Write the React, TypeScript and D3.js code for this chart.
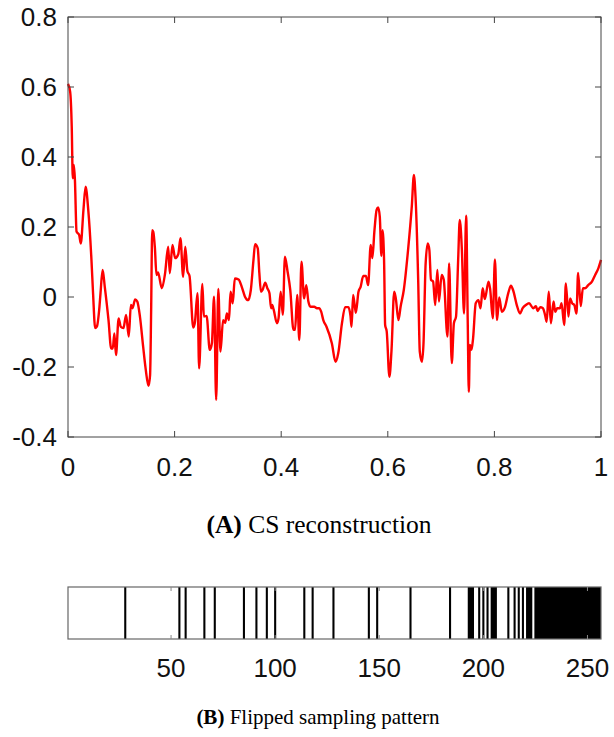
import React, { useEffect } from "react";
import * as d3 from "d3";

// Reconstruction curve points [x, y]
const curvePoints: [number, number][] = [
  [0,0.609],[0.004,0.587],[0.007,0.487],[0.009,0.339],[0.011,0.377],[0.013,0.334],[0.016,0.187],[0.021,0.177],[0.024,0.153],[0.029,0.249],[0.033,0.315],[0.038,0.249],[0.044,0.106],[0.047,0.011],[0.051,-0.089],[0.054,-0.085],[0.059,-0.028],[0.061,0.011],[0.065,0.077],[0.069,0.029],[0.076,-0.066],[0.081,-0.147],[0.084,-0.147],[0.087,-0.104],[0.090,-0.166],[0.095,-0.061],[0.099,-0.085],[0.104,-0.089],[0.109,-0.051],[0.114,-0.113],[0.118,-0.023],[0.121,-0.032],[0.126,-0.007],[0.130,-0.013],[0.135,-0.056],[0.141,-0.142],[0.146,-0.209],[0.151,-0.254],[0.154,-0.223],[0.156,-0.037],[0.158,0.191],[0.160,0.186],[0.163,0.141],[0.166,0.063],[0.169,0.070],[0.176,0.025],[0.182,0.066],[0.188,0.144],[0.191,0.068],[0.196,0.149],[0.201,0.111],[0.207,0.123],[0.211,0.168],[0.216,0.058],[0.220,0.144],[0.224,0.074],[0.228,0.060],[0.235,-0.087],[0.238,-0.074],[0.243,0.011],[0.246,-0.204],[0.252,0.037],[0.255,-0.056],[0.260,-0.054],[0.266,-0.151],[0.270,-0.132],[0.274,0.001],[0.278,-0.294],[0.282,0.023],[0.286,-0.156],[0.291,-0.066],[0.295,-0.074],[0.298,-0.047],[0.302,-0.066],[0.305,0.015],[0.309,-0.018],[0.313,0.053],[0.320,0.050],[0.326,0.029],[0.332,0.001],[0.338,-0.009],[0.343,0.020],[0.348,0.106],[0.351,0.151],[0.356,0.139],[0.359,0.068],[0.362,0.015],[0.365,0.020],[0.370,0.041],[0.374,0.025],[0.378,0.011],[0.381,-0.032],[0.383,-0.023],[0.386,-0.037],[0.392,-0.075],[0.395,-0.061],[0.399,0.015],[0.403,-0.051],[0.407,0.115],[0.412,0.072],[0.417,0.020],[0.423,-0.094],[0.426,-0.094],[0.430,0.006],[0.434,-0.123],[0.438,0.101],[0.443,-0.004],[0.447,0.034],[0.451,-0.013],[0.455,-0.028],[0.462,-0.028],[0.467,-0.032],[0.471,-0.032],[0.475,-0.042],[0.479,-0.066],[0.485,-0.085],[0.495,-0.132],[0.502,-0.185],[0.507,-0.161],[0.514,-0.075],[0.520,-0.029],[0.526,-0.029],[0.530,-0.054],[0.532,-0.085],[0.535,0.006],[0.540,-0.045],[0.545,0.015],[0.549,0.029],[0.554,0.060],[0.559,0.060],[0.563,0.034],[0.568,0.149],[0.571,0.111],[0.575,0.191],[0.579,0.249],[0.582,0.256],[0.585,0.229],[0.588,0.117],[0.590,0.191],[0.593,0.106],[0.595,-0.080],[0.598,-0.099],[0.603,-0.228],[0.607,-0.151],[0.612,0.015],[0.615,-0.004],[0.620,-0.066],[0.624,-0.028],[0.630,0.020],[0.638,0.134],[0.645,0.258],[0.649,0.349],[0.652,0.287],[0.657,0.049],[0.660,-0.156],[0.664,-0.185],[0.667,-0.132],[0.671,0.096],[0.675,0.153],[0.678,0.134],[0.681,0.049],[0.685,0.044],[0.689,-0.023],[0.693,0.077],[0.696,-0.013],[0.701,0.063],[0.705,0.049],[0.712,-0.113],[0.715,0.096],[0.720,-0.189],[0.724,-0.075],[0.728,-0.056],[0.732,0.106],[0.735,0.220],[0.739,0.134],[0.743,-0.047],[0.747,0.232],[0.750,-0.075],[0.752,-0.271],[0.754,-0.137],[0.757,-0.151],[0.760,-0.118],[0.765,-0.018],[0.770,-0.009],[0.774,-0.032],[0.778,0.025],[0.782,-0.006],[0.789,0.044],[0.792,0.023],[0.797,-0.061],[0.801,0.107],[0.805,-0.066],[0.809,-0.001],[0.814,-0.042],[0.820,-0.028],[0.826,0.011],[0.831,0.032],[0.835,0.020],[0.842,-0.023],[0.848,-0.047],[0.853,-0.032],[0.859,-0.023],[0.865,-0.018],[0.873,-0.032],[0.878,-0.026],[0.881,-0.040],[0.886,-0.029],[0.891,-0.032],[0.895,-0.051],[0.898,-0.071],[0.902,0.015],[0.906,-0.075],[0.911,-0.013],[0.914,-0.042],[0.918,-0.032],[0.923,-0.032],[0.926,-0.018],[0.931,-0.080],[0.934,0.039],[0.939,-0.056],[0.942,-0.004],[0.946,-0.018],[0.950,-0.023],[0.954,-0.047],[0.957,0.069],[0.962,-0.026],[0.966,0.025],[0.970,0.025],[0.976,0.034],[0.983,0.044],[0.989,0.063],[0.995,0.082],[1.0,0.106]
];

const xTicksTop = [0, 0.2, 0.4, 0.6, 0.8, 1];
const xTickLabelsTop = ["0", "0.2", "0.4", "0.6", "0.8", "1"];
const yTicksTop = [0.8, 0.6, 0.4, 0.2, 0, -0.2, -0.4];
const yTickLabelsTop = ["0.8", "0.6", "0.4", "0.2", "0", "-0.2", "-0.4"];

// Flipped sampling pattern: sampled indices (1..256)
const sampledIndices = [
  28, 54, 57, 66, 71, 85, 91, 96, 100, 114, 118, 128, 145, 149, 165, 184,
  193, 194, 195, 198, 200, 202, 204, 205, 206, 212, 215, 217, 219, 221, 222, 223,
  225, 226, 227, 228, 229, 230, 231, 232, 233, 234, 235, 236, 237, 238, 239, 240,
  241, 242, 243, 244, 245, 246, 247, 248, 249, 250, 251, 252, 253, 254, 255, 256,
];
const stripTicks = [50, 100, 150, 200, 250];

const W = 614, H = 737;
const L = 68, R = 601;
const T1 = 17, B1 = 437;
const T2 = 587, B2 = 639;
const AX = "#444";
const TXT = "#111";
const SANS = "'Liberation Sans', Arial, Helvetica, sans-serif";
const SERIF = "'Liberation Serif', 'Times New Roman', serif";
const FS = 26;

export default function App() {
  useEffect(() => {
    document.body.style.margin = "0";
  }, []);

  const x = d3.scaleLinear().domain([0, 1]).range([L, R]);
  const y = d3.scaleLinear().domain([-0.4, 0.8]).range([B1, T1]);
  const line = d3
    .line<[number, number]>()
    .x((d) => x(d[0]))
    .y((d) => y(d[1]))
    .curve(d3.curveMonotoneX);

  const xs = d3.scaleLinear().domain([0.5, 256.5]).range([L, R]);

  // merge consecutive sampled indices into runs so blocks render solid
  const runs: [number, number][] = [];
  sampledIndices.forEach((idx) => {
    const last = runs[runs.length - 1];
    if (last && last[1] === idx - 1) last[1] = idx;
    else runs.push([idx, idx]);
  });

  const tl = 6;
  return (
    <svg width={W} height={H} style={{ display: "block", background: "#fff" }}>
      <rect x={0} y={0} width={W} height={H} fill="#fff" />
      {/* Top chart */}
      <path d={line(curvePoints) || ""} fill="none" stroke="#ff0000" strokeWidth={2.4} strokeLinejoin="round" />
      <rect x={L} y={T1} width={R - L} height={B1 - T1} fill="none" stroke={AX} strokeWidth={1} />
      {yTicksTop.map((v, i) => (
        <g key={"y" + i}>
          <line x1={L} x2={L + tl} y1={y(v)} y2={y(v)} stroke={AX} />
          <line x1={R} x2={R - tl} y1={y(v)} y2={y(v)} stroke={AX} />
          <text x={57} y={y(v)} dy="0.35em" textAnchor="end" fontFamily={SANS} fontSize={FS} fill={TXT}>
            {yTickLabelsTop[i]}
          </text>
        </g>
      ))}
      {xTicksTop.map((v, i) => (
        <g key={"x" + i}>
          <line x1={x(v)} x2={x(v)} y1={B1} y2={B1 - tl} stroke={AX} />
          <line x1={x(v)} x2={x(v)} y1={T1} y2={T1 + tl} stroke={AX} />
          <text x={x(v)} y={476} textAnchor="middle" fontFamily={SANS} fontSize={FS} fill={TXT}>
            {xTickLabelsTop[i]}
          </text>
        </g>
      ))}
      <text x={319} y={533} textAnchor="middle" fontFamily={SERIF} fontSize={25.5} fill="#000">
        <tspan fontWeight="bold">(A)</tspan>
        <tspan> CS reconstruction</tspan>
      </text>

      {/* Sampling pattern strip */}
      {runs.map(([a, b]) => (
        <rect
          key={"s" + a}
          x={xs(a - 0.5)}
          y={T2}
          width={xs(b + 0.5) - xs(a - 0.5)}
          height={B2 - T2}
          fill="#000"
        />
      ))}
      <rect x={L} y={T2} width={R - L} height={B2 - T2} fill="none" stroke="#666" strokeWidth={1.2} />
      {stripTicks.map((v) => (
        <g key={"st" + v}>
          <line x1={xs(v)} x2={xs(v)} y1={T2} y2={T2 + 4} stroke="#888" />
          <line x1={xs(v)} x2={xs(v)} y1={B2} y2={B2 - 4} stroke="#888" />
          <text x={xs(v)} y={677} textAnchor="middle" fontFamily={SANS} fontSize={FS} fill={TXT}>
            {v}
          </text>
        </g>
      ))}
      <text x={318} y={724} textAnchor="middle" fontFamily={SERIF} fontSize={21} fill="#000">
        <tspan fontWeight="bold">(B)</tspan>
        <tspan> Flipped sampling pattern</tspan>
      </text>
    </svg>
  );
}
